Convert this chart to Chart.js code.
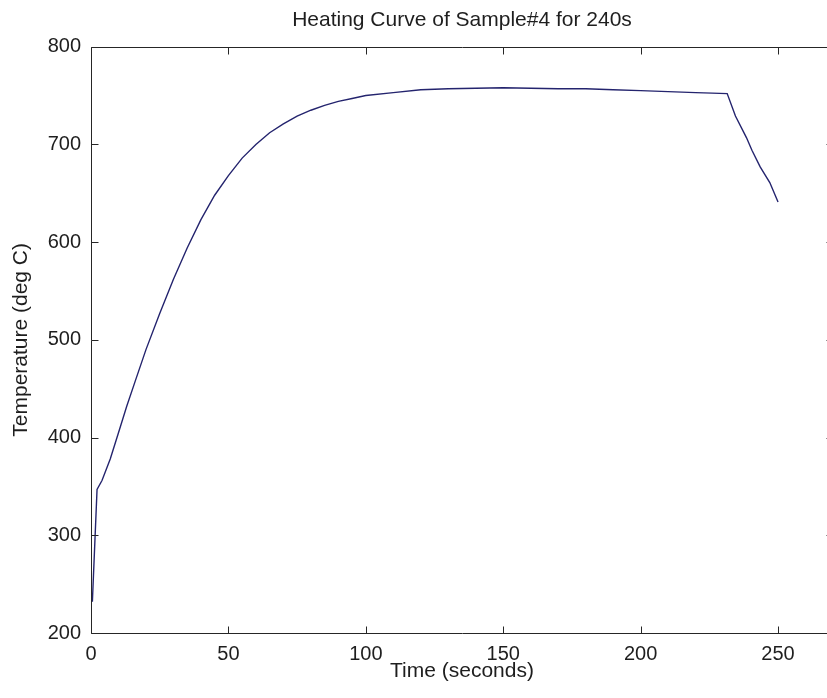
<!DOCTYPE html>
<html>
<head>
<meta charset="utf-8">
<script src="https://cdn.jsdelivr.net/npm/chart.js@4.4.1/dist/chart.umd.min.js"></script>
<style>
html,body{margin:0;padding:0;background:#fff;overflow:hidden;width:827px;height:698px}
#wrap{width:900px;height:698px}
</style>
</head>
<body>
<div id="wrap"><canvas id="c" width="900" height="698"></canvas></div>
<script>
// ---- data ----
const timeSeconds = [0.5, 2.2, 4, 7, 10, 13, 16, 20, 25, 30, 35, 40, 45, 50, 55, 60, 65, 70, 75, 80, 85, 90, 95, 100, 110, 120, 130, 140, 150, 160, 170, 180, 190, 200, 210, 220, 226, 231.5, 234.5, 238.5, 240.5, 243.5, 247, 250];
const temperatureDegC = [232, 347, 356, 378, 405, 432, 457, 490, 527, 562, 594, 623, 648, 668, 686, 700, 712, 721, 729, 735, 740, 744, 747, 750, 753, 756, 757, 757.5, 758, 757.5, 757, 757, 756, 755, 754, 753, 752.5, 752, 729, 707, 694, 677, 661, 641];
const xTickValues = [0, 50, 100, 150, 200, 250];
const yTickValues = [200, 300, 400, 500, 600, 700, 800];
const chartTitle = 'Heating Curve of Sample#4 for 240s';
const xAxisTitle = 'Time (seconds)';
const yAxisTitle = 'Temperature (deg C)';

const FAMILY = '"Liberation Sans", Arial, Helvetica, sans-serif';
const TEXT = '#1e1e1e';
const AXIS = '#262626';

const points = timeSeconds.map((t, i) => ({x: t, y: temperatureDegC[i]}));

const matlabBox = {
  id: 'matlabBox',
  afterDatasetsDraw(chart) {
    const {ctx, chartArea, scales: {x, y}} = chart;
    const l = Math.round(chartArea.left) + 0.5, r = Math.round(chartArea.right) + 0.5;
    const t = Math.round(chartArea.top) + 0.5, b = Math.round(chartArea.bottom) + 0.5;
    const L = 7;
    ctx.save();
    ctx.strokeStyle = AXIS;
    ctx.lineWidth = 1;
    ctx.beginPath();
    ctx.rect(l, t, r - l, b - t);
    x.ticks.forEach(tk => {
      const p = Math.round(x.getPixelForValue(tk.value)) + 0.5;
      ctx.moveTo(p, b); ctx.lineTo(p, b - L);
      ctx.moveTo(p, t); ctx.lineTo(p, t + L);
    });
    y.ticks.forEach(tk => {
      const p = Math.round(y.getPixelForValue(tk.value)) + 0.5;
      ctx.moveTo(l, p); ctx.lineTo(l + L, p);
      ctx.moveTo(r, p); ctx.lineTo(r - L, p);
    });
    ctx.stroke();
    ctx.restore();
  }
};

new Chart(document.getElementById('c'), {
  type: 'line',
  data: {
    datasets: [{
      data: points,
      borderColor: '#24246e',
      borderWidth: 1.4,
      pointRadius: 0,
      tension: 0,
      fill: false
    }]
  },
  options: {
    responsive: false,
    animation: false,
    devicePixelRatio: 1,
    layout: {padding: {left: 0, right: 67, top: 0, bottom: 0}},
    plugins: {
      legend: {display: false},
      tooltip: {enabled: false},
      title: {
        display: true,
        text: chartTitle,
        fullSize: false,
        color: TEXT,
        font: {family: FAMILY, size: 21, weight: 'normal'},
        padding: {top: 8, bottom: 13.5}
      }
    },
    scales: {
      x: {
        type: 'linear',
        min: 0,
        max: 270,
        afterBuildTicks: s => { s.ticks = xTickValues.map(v => ({value: v})); },
        afterFit: s => { s.height = 65; },
        ticks: {color: TEXT, font: {family: FAMILY, size: 20}, padding: 9, maxRotation: 0, autoSkip: false},
        grid: {display: false, drawTicks: false},
        border: {display: false},
        title: {display: true, text: xAxisTitle, color: TEXT, font: {family: FAMILY, size: 21}, padding: {top: 0, bottom: 14.5}}
      },
      y: {
        type: 'linear',
        min: 200,
        max: 800,
        afterBuildTicks: s => { s.ticks = yTickValues.map(v => ({value: v})); },
        afterFit: s => { s.width = 91; },
        ticks: {color: TEXT, font: {family: FAMILY, size: 20}, padding: 10, autoSkip: false},
        grid: {display: false, drawTicks: false},
        border: {display: false},
        title: {display: true, text: yAxisTitle, color: TEXT, font: {family: FAMILY, size: 21}, padding: {top: 9, bottom: 0}}
      }
    }
  },
  plugins: [matlabBox]
});
</script>
</body>
</html>
